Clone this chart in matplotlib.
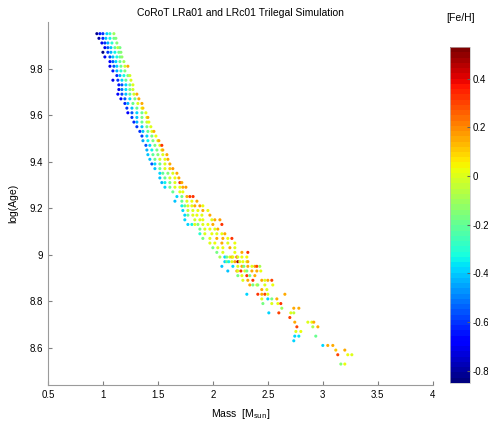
import numpy as np
import matplotlib.pyplot as plt
from matplotlib.ticker import FormatStrFormatter

# isochrone rows of the simulated sample: log(Age), then mass [Msun] and [Fe/H] of each star
log_age = [9.95, 9.93, 9.91, 9.89, 9.87, 9.85, 9.83, 9.81, 9.79, 9.77,
           9.75, 9.73, 9.71, 9.69, 9.67, 9.65, 9.63, 9.61, 9.59, 9.57,
           9.55, 9.53, 9.51, 9.49, 9.47, 9.45, 9.43, 9.41, 9.39, 9.37,
           9.35, 9.33, 9.31, 9.29, 9.27, 9.25, 9.23, 9.21, 9.19, 9.17,
           9.15, 9.13, 9.11, 9.09, 9.07, 9.05, 9.03, 9.01, 8.99, 8.97,
           8.95, 8.93, 8.91, 8.89, 8.87, 8.85, 8.83, 8.81, 8.79, 8.77,
           8.75, 8.73, 8.71, 8.69, 8.67, 8.65, 8.63, 8.61, 8.59, 8.57,
           8.53]

row_mass = [
    [0.945, 0.973, 1.000, 1.036, 1.064, 1.100],
    [0.964, 1.000, 1.027, 1.064, 1.100, 1.118],
    [0.991, 1.018, 1.045, 1.082, 1.127],
    [1.018, 1.045, 1.073, 1.109, 1.136, 1.155],
    [1.000, 1.045, 1.073, 1.109, 1.145, 1.164],
    [1.018, 1.064, 1.091, 1.127, 1.155, 1.173],
    [1.064, 1.091, 1.118, 1.155, 1.191],
    [1.064, 1.100, 1.127, 1.164, 1.200, 1.227],
    [1.091, 1.127, 1.164, 1.200],
    [1.127, 1.155, 1.191, 1.227, 1.245],
    [1.091, 1.136, 1.173, 1.209, 1.255],
    [1.145, 1.173, 1.209, 1.245, 1.273],
    [1.145, 1.173, 1.209, 1.245, 1.273],
    [1.136, 1.173, 1.209, 1.245, 1.282, 1.309],
    [1.164, 1.200, 1.245, 1.291, 1.327],
    [1.200, 1.227, 1.273, 1.318, 1.355],
    [1.218, 1.264, 1.309, 1.355, 1.364],
    [1.227, 1.264, 1.309, 1.355, 1.391],
    [1.264, 1.309, 1.355, 1.400, 1.409],
    [1.282, 1.309, 1.355, 1.400, 1.418],
    [1.309, 1.355, 1.400, 1.436],
    [1.336, 1.364, 1.409, 1.445, 1.464],
    [1.355, 1.400, 1.445, 1.482],
    [1.364, 1.409, 1.455, 1.500, 1.509],
    [1.391, 1.427, 1.473, 1.518, 1.536],
    [1.400, 1.445, 1.491, 1.536, 1.545],
    [1.409, 1.455, 1.500, 1.545, 1.582],
    [1.427, 1.473, 1.518, 1.564, 1.591],
    [1.445, 1.473, 1.518, 1.564, 1.609],
    [1.473, 1.518, 1.564, 1.609, 1.636],
    [1.518, 1.545, 1.591, 1.636, 1.673],
    [1.518, 1.564, 1.609, 1.655, 1.691],
    [1.536, 1.564, 1.609, 1.655, 1.700, 1.718],
    [1.564, 1.609, 1.655, 1.700, 1.727, 1.755],
    [1.636, 1.700, 1.727],
    [1.673, 1.718, 1.764, 1.791, 1.820],
    [1.655, 1.718, 1.764, 1.809, 1.855],
    [1.718, 1.745, 1.773, 1.809, 1.836, 1.882, 1.909],
    [1.727, 1.773, 1.818, 1.864, 1.909, 1.955],
    [1.745, 1.773, 1.818, 1.855, 1.900, 1.973],
    [1.745, 1.836, 1.882, 1.909, 1.991, 2.018, 2.064],
    [1.773, 1.809, 1.836, 1.864, 1.909, 1.955, 2.000, 2.082],
    [1.882, 1.927, 1.973, 2.018, 2.045],
    [1.882, 1.927, 1.991, 2.036, 2.082, 2.109],
    [1.909, 1.973, 2.036, 2.091, 2.136, 2.173],
    [1.973, 2.018, 2.082, 2.136, 2.200],
    [2.000, 2.045, 2.091, 2.155, 2.200],
    [2.036, 2.091, 2.200, 2.264, 2.318],
    [2.064, 2.109, 2.127, 2.155, 2.173, 2.182, 2.218, 2.227, 2.264, 2.309],
    [2.109, 2.127, 2.145, 2.173, 2.200, 2.227, 2.245, 2.273, 2.309, 2.318],
    [2.082, 2.182, 2.227, 2.264, 2.282, 2.318, 2.355, 2.382, 2.400, 2.427],
    [2.136, 2.218, 2.227, 2.255, 2.291, 2.309, 2.355, 2.400, 2.436],
    [2.227, 2.264, 2.309, 2.336, 2.382],
    [2.273, 2.318, 2.364, 2.445, 2.473, 2.500, 2.536],
    [2.336, 2.364, 2.400, 2.409, 2.473, 2.545],
    [2.445, 2.491],
    [2.309, 2.409, 2.445, 2.473, 2.500, 2.655],
    [2.445, 2.500, 2.536, 2.582],
    [2.455, 2.536, 2.591, 2.618],
    [2.627, 2.736, 2.782],
    [2.509, 2.600, 2.709, 2.736],
    [2.700],
    [2.745, 2.864, 2.900, 2.918],
    [2.764, 2.909, 2.955],
    [2.755, 2.800],
    [2.745, 2.782, 2.936],
    [2.736],
    [3.000, 3.045, 3.091],
    [3.118, 3.200],
    [3.136, 3.227, 3.264],
    [3.164, 3.200],
]

row_feh = [
    [-0.82, -0.65, -0.60, -0.38, -0.28, -0.10],
    [-0.80, -0.62, -0.40, -0.35, -0.20, -0.15],
    [-0.70, -0.60, -0.42, -0.30, -0.15],
    [-0.70, -0.55, -0.40, -0.22, -0.05, -0.18],
    [-0.85, -0.60, -0.42, -0.35, -0.20, -0.15],
    [-0.72, -0.58, -0.40, -0.33, -0.20, -0.12],
    [-0.68, -0.55, -0.38, -0.22, -0.10],
    [-0.70, -0.55, -0.38, -0.20, -0.02, 0.15],
    [-0.65, -0.42, -0.30, -0.15],
    [-0.62, -0.42, -0.32, -0.18, -0.02],
    [-0.72, -0.60, -0.38, -0.20, 0.00],
    [-0.65, -0.55, -0.38, -0.20, 0.00],
    [-0.70, -0.52, -0.36, -0.18, -0.02],
    [-0.68, -0.58, -0.40, -0.22, -0.02, 0.15],
    [-0.68, -0.55, -0.38, -0.18, 0.15],
    [-0.62, -0.42, -0.20, 0.00, 0.15],
    [-0.60, -0.40, -0.20, 0.00, 0.12],
    [-0.68, -0.55, -0.38, -0.20, 0.00],
    [-0.60, -0.40, -0.18, 0.00, 0.15],
    [-0.62, -0.42, -0.20, -0.05, 0.02],
    [-0.60, -0.40, -0.18, 0.00],
    [-0.60, -0.40, -0.20, 0.00, 0.15],
    [-0.58, -0.38, -0.18, 0.02],
    [-0.45, -0.35, -0.18, 0.00, 0.15],
    [-0.55, -0.38, -0.18, 0.00, 0.32],
    [-0.42, -0.35, -0.18, 0.00, 0.15],
    [-0.40, -0.22, -0.15, 0.00, 0.15],
    [-0.40, -0.20, -0.02, 0.02, 0.15],
    [-0.55, -0.38, -0.20, 0.00, 0.15],
    [-0.40, -0.20, 0.00, 0.12, 0.18],
    [-0.38, -0.22, -0.15, 0.00, 0.15],
    [-0.40, -0.20, -0.02, 0.02, 0.15],
    [-0.42, -0.35, -0.18, 0.00, 0.33, 0.15],
    [-0.38, -0.20, 0.00, 0.02, 0.15, 0.18],
    [-0.20, 0.00, 0.02],
    [-0.38, -0.18, 0.15, 0.30, 0.33],
    [-0.40, -0.20, 0.00, 0.02, 0.15],
    [-0.35, -0.20, 0.00, 0.00, 0.15, 0.18, 0.02],
    [-0.38, -0.05, 0.00, 0.02, 0.15, 0.02],
    [-0.38, -0.20, 0.00, 0.02, 0.00, 0.15],
    [-0.38, -0.02, 0.00, 0.02, 0.00, 0.15, 0.18],
    [-0.38, -0.35, 0.00, -0.15, 0.00, 0.02, 0.15, 0.33],
    [-0.18, 0.00, 0.02, 0.00, 0.15],
    [-0.30, 0.00, 0.02, 0.00, 0.02, 0.15],
    [-0.18, 0.00, 0.15, 0.15, 0.02, 0.33],
    [0.00, 0.02, 0.15, 0.00, 0.02],
    [-0.18, 0.00, 0.02, 0.15, 0.00],
    [-0.18, 0.00, 0.02, 0.15, 0.33],
    [-0.08, -0.38, -0.18, 0.00, 0.15, 0.02, 0.30, 0.00, 0.02, 0.05],
    [-0.38, -0.18, -0.35, 0.00, 0.15, 0.48, 0.00, 0.02, 0.00, 0.15],
    [-0.40, -0.38, 0.00, 0.15, -0.18, 0.15, 0.00, 0.15, 0.30, -0.08],
    [-0.40, 0.15, 0.00, 0.33, 0.00, -0.18, 0.15, 0.15, 0.02],
    [-0.18, 0.00, 0.33, -0.18, 0.15],
    [0.00, 0.15, 0.33, 0.15, 0.00, 0.15, 0.30],
    [0.15, -0.18, 0.00, -0.15, 0.00, 0.02],
    [0.15, 0.00],
    [-0.38, 0.33, 0.15, 0.30, 0.00, 0.15],
    [0.00, -0.38, -0.18, 0.15],
    [-0.18, 0.00, 0.02, 0.33],
    [-0.10, 0.15, 0.15],
    [-0.38, 0.30, 0.00, -0.05],
    [0.30],
    [0.15, 0.00, 0.02, 0.15],
    [0.30, -0.08, 0.15],
    [0.00, 0.02],
    [-0.38, -0.36, -0.20],
    [-0.38],
    [-0.38, 0.15, 0.15],
    [0.12, 0.15],
    [0.30, 0.02, 0.00],
    [-0.15, 0.02],
]

mass, age, feh = [], [], []
for a, ms, fs in zip(log_age, row_mass, row_feh):
    for m, f in zip(ms, fs):
        mass.append(m)
        age.append(a)
        feh.append(f)

plt.rcParams['font.family'] = ['Liberation Sans', 'DejaVu Sans']
plt.rcParams['font.size'] = 7

fig = plt.figure(figsize=(4.89, 4.24), dpi=100)
ax = fig.add_axes([0.098, 0.092, 0.787, 0.856])

sc = ax.scatter(mass, age, c=feh, cmap=plt.get_cmap('jet', 64),
                vmin=-0.85, vmax=0.53, s=5, marker='o', linewidths=0)

ax.set_xlim(0.5, 4)
ax.set_ylim(8.44, 10.0)
ax.set_xticks(np.arange(0.5, 4.01, 0.5))
ax.set_yticks([8.6, 8.8, 9.0, 9.2, 9.4, 9.6, 9.8])
ax.xaxis.set_major_formatter(FormatStrFormatter('%g'))
ax.yaxis.set_major_formatter(FormatStrFormatter('%g'))
ax.tick_params(direction='in', length=3, color='#808080', labelsize=7)
for side in ['top', 'right']:
    ax.spines[side].set_visible(False)
for side in ['left', 'bottom']:
    ax.spines[side].set_color('#9a9a9a')

ax.set_title('CoRoT LRa01 and LRc01 Trilegal Simulation', fontsize=7.5, pad=4)
ax.set_xlabel(r'Mass  [M$_{\mathrm{sun}}$]', fontsize=7.5, labelpad=5)
ax.set_ylabel('log(Age)', fontsize=7.5, labelpad=8)

cax = fig.add_axes([0.920, 0.097, 0.041, 0.792])
cb = fig.colorbar(sc, cax=cax)
cb.set_ticks([-0.8, -0.6, -0.4, -0.2, 0, 0.2, 0.4])
cb.ax.yaxis.set_major_formatter(FormatStrFormatter('%g'))
cb.ax.tick_params(direction='in', length=2, color='#606060', labelsize=7, pad=2)
cb.outline.set_edgecolor('#c0c0c0')
cb.outline.set_linewidth(0.5)
fig.text(0.941, 0.958, '[Fe/H]', ha='center', va='center', fontsize=7.5)

plt.savefig('out.png', dpi=100)
